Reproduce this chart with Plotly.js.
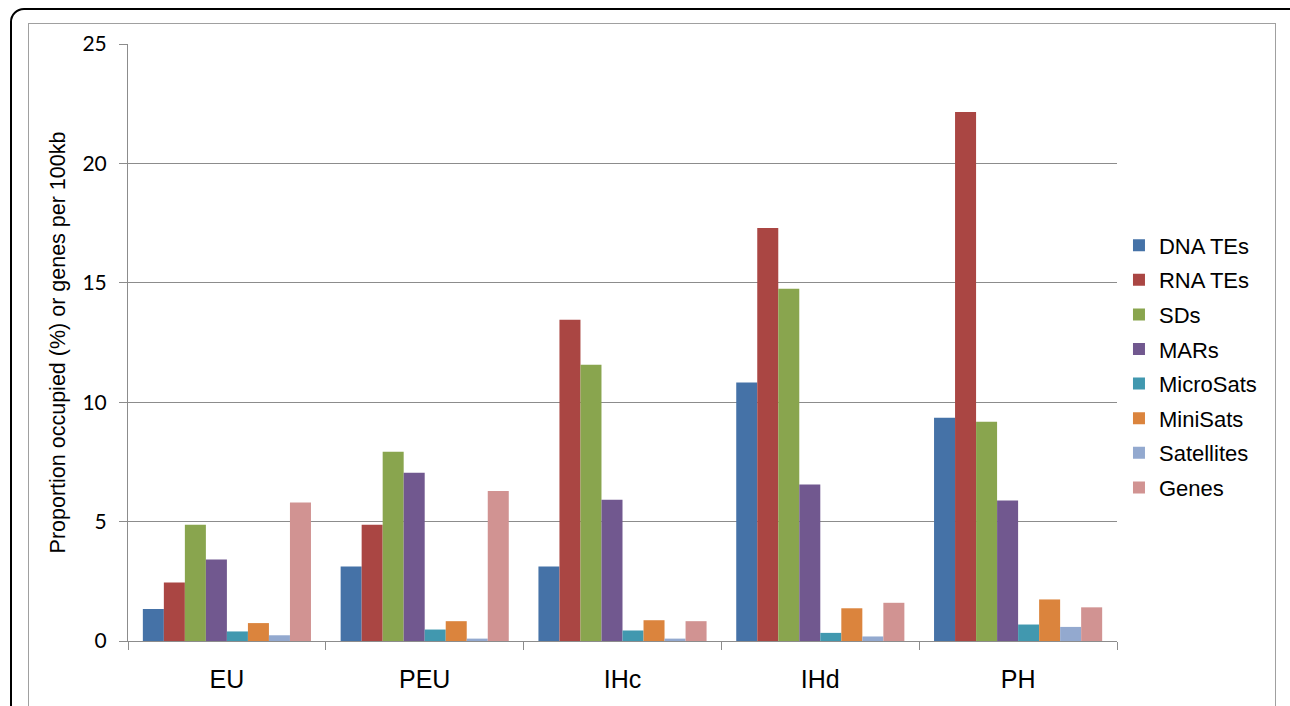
<!DOCTYPE html>
<html>
<head>
<meta charset="utf-8">
<script src="https://cdn.plot.ly/plotly-3.0.1.min.js"></script>
<style>
html,body{margin:0;padding:0;background:#fff;overflow:hidden;}
#frame1{position:absolute;left:10px;top:8px;width:1300px;height:720px;border:2px solid #000;border-radius:14px;box-sizing:border-box;}
#frame2{position:absolute;left:28px;top:23px;width:1248px;height:720px;border:1px solid #a0a0a0;box-sizing:border-box;}
#chart{position:absolute;left:0;top:0;width:1290px;height:706px;}
</style>
</head>
<body>
<div id="frame1"></div>
<div id="frame2"></div>
<div id="chart"></div>
<script>
const categories = ["EU", "PEU", "IHc", "IHd", "PH"];
const seriesNames = ["DNA TEs", "RNA TEs", "SDs", "MARs", "MicroSats", "MiniSats", "Satellites", "Genes"];
const dnaTEs     = [1.34, 3.12, 3.12, 10.82, 9.35];
const rnaTEs     = [2.45, 4.87, 13.45, 17.3, 22.15];
const sds        = [4.87, 7.93, 11.57, 14.75, 9.18];
const mars       = [3.41, 7.05, 5.92, 6.55, 5.88];
const microSats  = [0.40, 0.48, 0.44, 0.34, 0.69];
const miniSats   = [0.75, 0.83, 0.87, 1.37, 1.74];
const satellites = [0.24, 0.10, 0.10, 0.19, 0.59];
const genes      = [5.80, 6.28, 0.83, 1.60, 1.41];
const colors = ["#4572A7", "#AA4643", "#89A54E", "#71588F", "#4198AF", "#DB843D", "#93A9CF", "#D19392"];

const allSeries = [dnaTEs, rnaTEs, sds, mars, microSats, miniSats, satellites, genes];
const traces = allSeries.map((vals, i) => ({
  type: "bar",
  name: seriesNames[i],
  x: categories,
  y: vals,
  legendgroup: "g" + i,
  marker: {color: colors[i], line: {width: 0}},
  hoverinfo: "x+y+name"
}));

const layout = {
  width: 1290,
  height: 706,
  paper_bgcolor: "rgba(0,0,0,0)",
  plot_bgcolor: "rgba(0,0,0,0)",
  margin: {l: 128, r: 173, t: 44, b: 65},
  barmode: "group",
  bargap: 0.15,
  bargroupgap: 0,
  showlegend: true,
  legend: {
    x: 1.002, xanchor: "left",
    y: 0.46, yanchor: "middle",
    traceorder: "grouped",
    tracegroupgap: 3,
    itemwidth: 30,
    font: {family: "Liberation Sans, Arial, sans-serif", size: 22, color: "#000"},
    bgcolor: "rgba(0,0,0,0)"
  },
  xaxis: {
    type: "category",
    showline: true,
    linecolor: "#8c8c8c",
    linewidth: 1,
    ticks: "outside",
    tickson: "boundaries",
    ticklen: 8,
    tickcolor: "#8c8c8c",
    ticklabelstandoff: 16,
    tickfont: {family: "Liberation Sans, Arial, sans-serif", size: 25, color: "#000"},
    showgrid: false
  },
  yaxis: {
    range: [0, 25],
    dtick: 5,
    showline: true,
    linecolor: "#8c8c8c",
    linewidth: 1,
    ticks: "outside",
    ticklen: 8,
    tickcolor: "#8c8c8c",
    ticklabelstandoff: 8,
    showgrid: true,
    gridcolor: "#8c8c8c",
    gridwidth: 1,
    zeroline: false,
    tickfont: {family: "Lato, Carlito, sans-serif", size: 21, color: "#000"},
    title: {
      text: "Proportion occupied (%) or genes per 100kb",
      font: {family: "Liberation Sans, Arial, sans-serif", size: 21.5, color: "#000"},
      standoff: 10
    }
  }
};

Plotly.newPlot("chart", traces, layout, {displayModeBar: false, staticPlot: true});
</script>
</body>
</html>
